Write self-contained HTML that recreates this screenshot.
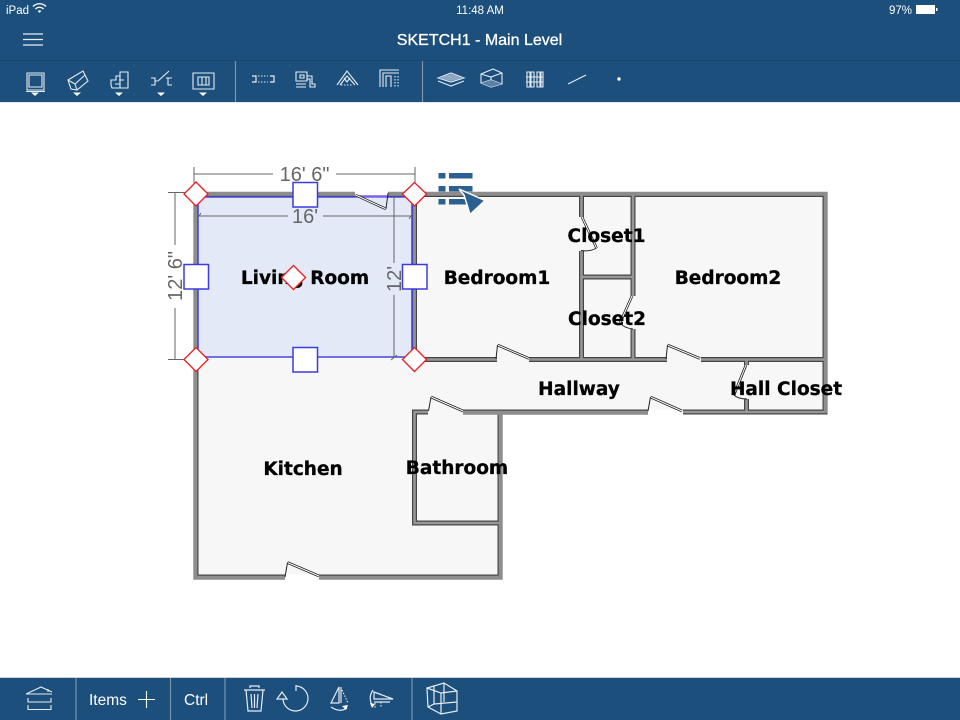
<!DOCTYPE html>
<html><head><meta charset="utf-8"><style>
html,body{margin:0;padding:0;background:#fff;width:960px;height:720px;overflow:hidden}
svg{display:block}
.lb{font-family:"DejaVu Sans",sans-serif;font-weight:bold;font-size:18.5px;fill:#000;stroke:#000;stroke-width:.3;text-anchor:middle}
.dm{font-family:"Liberation Sans",sans-serif;font-size:20px;fill:#666;text-anchor:middle}
.ui{font-family:"Liberation Sans",sans-serif;fill:#fff}
.ic{fill:none;stroke:#e6ecf2;stroke-width:1.1}
</style></head><body>
<svg width="960" height="720" viewBox="0 0 960 720" xmlns="http://www.w3.org/2000/svg">
<rect width="960" height="720" fill="#fff"/>
<rect width="960" height="102" fill="#1c4f7c"/>
<rect y="60" width="960" height="1" fill="#194872"/>
<rect y="102" width="960" height="1" fill="#dfe8ee"/>
<text class="ui" x="6" y="14" font-size="11.5">iPad</text>
<g fill="none" stroke="#fff" stroke-width="1.3"><path d="M33 6.500a9 9 0 0 1 13 0"/><path d="M35.500 9a5.500 5.500 0 0 1 8 0"/></g><path d="M37.700 11a2.500 2.500 0 0 1 3.600 0L39.500 13z" fill="#fff"/>
<text class="ui" x="480" y="14" font-size="11.5" text-anchor="middle">11:48 AM</text>
<text class="ui" x="889" y="14" font-size="11.5">97%</text>
<rect x="916" y="5" width="19" height="9" fill="#fff"/><rect x="936" y="8" width="1.500" height="3" fill="#fff"/>
<g stroke="#e8eef4" stroke-width="1.200"><path d="M23 34H43M23 39.500H43M23 45H43"/></g>
<text class="ui" x="479.500" y="45" font-size="16" text-anchor="middle" stroke="#fff" stroke-width=".3">SKETCH1 - Main Level</text>
<path d="M235.500 61V102M422.500 61V102" stroke="#7d93aa" stroke-width="1.200"/>
<!-- top icons -->
<g class="ic">
<path d="M27 73H44V90H27zM29 75H42V87H29z"/><path d="M26 91.500H45"/>
<path d="M68 80L83 71L88 81L77 90L71 89zM68 80L75 84L77 90M75 84L85 75"/>
<path d="M111 85V80H116V76H120V72H128V88H112zM115 84H120M119 80H124M120 76V88"/>
<path d="M151 78H155V85H151M155 81H158M158 81L169 71M166 78H172M168 78V85H172"/>
<path d="M193 73H214V89H193zM198 77H209V85H198zM202 77V85M206 77V85"/>
<path d="M252 76H256V82H252M270 76H274V82H270" stroke-width="1.200"/><path d="M258 76H268M258 82H268" stroke-dasharray="1.500 1.500"/>
<path d="M296 72H307V81H296zM300 75H304V78H300zM307 76H312V84H315V87H310V79H307M296 84H306M296 87H306" />
<path d="M337 85L347 71L358 85M340 85L347 76L355 85M344 78L347 82L350 78"/><path d="M341 85H353" stroke-dasharray="1.500 1.500"/>
<path d="M380 87V70H399M383 87V73H399M386 87V76H391V87"/><path d="M395 76V87M398 76V87" stroke-dasharray="1.500 1.500"/>
<path d="M438 78L451 73L464 78L451 82zM438 81L451 86L464 81"/>
<path d="M481 74L493 69L502 73V84L491 87L481 83zM481 74L491 77L502 73M491 77V87M481 83L491 80L502 84"/>
<path d="M527 72H530V87H527zM531 72H534V87H531zM537 72H540V87H537zM541 72H543V87H541zM526 77H543M526 82H543"/>
<path d="M568 84L586 75"/>
</g>
<path d="M438 78L451 74L464 78L451 81z" fill="#8ea9c6"/>
<path d="M481 83L491 80L502 84L491 87z" fill="#5b7fa5"/>
<circle cx="619" cy="79" r="1.700" fill="#fff"/>
<path d="M31 92.500H39L35 96zM73 92.500H81L77 96zM115 92.500H123L119 96zM157 92.500H165L161 96zM199 92.500H207L203 96z" fill="#fff"/>
<!-- floor -->
<path d="M194 192H827V415H502V579H194Z" fill="#f7f7f7"/>
<rect x="198" y="197" width="214" height="160" fill="#e3e9f7"/>
<g fill="none" stroke-linecap="butt">
<path d="M355 194.500H196V577H285M319 577H500V412M388 194.500H825V412H683M648 412H463M428 412H414.500V523H500M414.500 194.500V359.500H497M529 359.500H667M701 359.500H825M581.500 194.500V217M581.500 251V359.500M633 194.500V296M633 329V359.500M581.500 277H633M746.500 359.500V365M746.500 399V412" stroke="#454545" stroke-width="5"/>
<path d="M355 194.500H196V577H285M319 577H500V412M388 194.500H825V412H683M648 412H463M428 412H414.500V523H500M414.500 194.500V359.500H497M529 359.500H667M701 359.500H825M581.500 194.500V217M581.500 251V359.500M633 194.500V296M633 329V359.500M581.500 277H633M746.500 359.500V365M746.500 399V412" stroke="#979797" stroke-width="2.600"/>
<!-- lighter outer body of perimeter walls -->
<path d="M355 193.500H195V578H285M319 578H501V413H683M648 413H463M388 193.500H826V413" stroke="#8d8d8d" stroke-width="3.400"/>
</g>
<rect x="285" y="574.500" width="34" height="6" fill="#fff"/>
<rect x="648" y="409.500" width="35" height="6" fill="#fff"/>
<rect x="355" y="191" width="33" height="4" fill="#fff"/>
<path d="M198 197H355M388 197H412V357H198V197" fill="none" stroke="#4747dc" stroke-width="1.600"/>
<path d="M355 196.500H388" stroke="#7a62ea" stroke-width="2.500"/>
<!-- doors -->
<g fill="none" stroke="#222" stroke-width="2.600">
<path d="M355.500 195L386 209M497.500 345L529 358.500M667.500 345L700 358.500M431 397L463 411M650.500 397L682 411M287.500 562.500L319 576M582 217L596.500 248M632 296L620 323M746 365L734 395"/>
</g>
<g fill="none" stroke="#fff" stroke-width="1">
<path d="M355.500 195L386 209M497.500 345L529 358.500M667.500 345L700 358.500M431 397L463 411M650.500 397L682 411M287.500 562.500L319 576M582 217L596.500 248M632 296L620 323M746 365L734 395"/>
</g>
<g fill="none" stroke="#222" stroke-width="1">
<path d="M388 193L386 209M497.500 345L496 359M667.500 345L666 359M431 397L428.500 411M650.500 397L648 411M287.500 562.500L285 577M596.500 248Q590 252 581 250.500M620 323Q624 328 633 329M734 395Q738 399 747 399"/>
</g>
<!-- dims -->
<g stroke="#666" stroke-width="1" fill="none">
<path d="M194 174H273M336 174H415M194 167V190M415 167V190"/>
<path d="M198 216H288M323 216H412M197 219L201 213M409 219L413 213"/>
<path d="M175 192V245M175 308V359M168 192.500H192M168 359.500H192"/>
<path d="M394 197V263M394 295V357M391 360L397 355"/>
</g>
<text class="dm" x="304.500" y="181">16' 6"</text>
<text class="dm" x="305" y="223">16'</text>
<text class="dm" transform="translate(182,276) rotate(-90)" x="0" y="0">12' 6"</text>
<text class="dm" transform="translate(401,279) rotate(-90)" x="0" y="0">12'</text>
<!-- labels -->
<text class="lb" x="305" y="284">Living Room</text>
<text class="lb" x="497" y="284">Bedroom1</text>
<text class="lb" x="606.500" y="242">Closet1</text>
<text class="lb" x="728" y="284">Bedroom2</text>
<text class="lb" x="607" y="325">Closet2</text>
<text class="lb" x="579" y="395">Hallway</text>
<text class="lb" x="786" y="395">Hall Closet</text>
<text class="lb" x="303" y="475">Kitchen</text>
<text class="lb" x="457" y="474">Bathroom</text>
<!-- handles -->
<g fill="#fff" stroke="#3b3be0" stroke-width="1.500">
<rect x="293" y="182.500" width="24.500" height="24.500"/>
<rect x="184" y="264.500" width="24.500" height="24.500"/>
<rect x="402.500" y="264.500" width="24.500" height="24.500"/>
<rect x="293" y="347.500" width="24.500" height="24.500"/>
</g>
<g fill="#fff" stroke="#e8262a" stroke-width="1.400">
<path d="M196 182L208 194L196 206L184 194Z"/>
<path d="M414.500 182.500L426.500 194L414.500 206L402.500 194Z"/>
<path d="M196 347.500L208 359.500L196 371.500L184 359.500Z"/>
<path d="M414.500 347.500L426.500 359.500L414.500 371.500L402.500 359.500Z"/>
<path d="M293.500 265.500L305.500 277.500L293.500 289.500L281.500 277.500Z"/>
</g>
<!-- cursor -->
<g fill="#2b6090">
<rect x="438.500" y="173" width="7" height="5.500"/><rect x="449" y="173" width="23.500" height="5.500"/>
<rect x="438.500" y="186" width="7" height="5.500"/><rect x="449" y="186" width="23.500" height="5.500"/>
<rect x="438.500" y="199" width="7" height="5.500"/><rect x="449" y="199" width="23.500" height="5.500"/>
</g>
<path d="M459 189L485 200.500L470 214.500L464 195Z" fill="#2b6090" stroke="#fff" stroke-width="1.500" stroke-linejoin="miter"/>
<!-- bottom bar -->
<rect y="678" width="960" height="42" fill="#1c4f7c"/>
<rect y="677" width="960" height="1" fill="#c9d3dc"/>
<path d="M76 678V720M170.500 678V720M225 678V720M412 678V720" stroke="#7d93aa" stroke-width="1.200"/>
<g class="ic">
<path d="M26 694L41 687L52 692M26 694H52M48 689V692M28 698V702H51V698M28 705V709.500H51V705"/>
<path d="M138 699.500H155M146.500 691V708" stroke="#fff"/>
<path d="M246 690H263L261 711H248ZM250 688V686H259V688M244 690H265M251 694L252 708M254.500 694V708M258 694L257 708" stroke-width="1.200"/>
<path d="M296 686A12.500 12.500 0 1 1 283 699" stroke-width="1.200"/><path d="M296 685V691M282 692L287 699H277Z" stroke-width="1.200"/>
<path d="M339 687L331 703H339ZM341 687V703" stroke-width="1.200"/><path d="M342 690L348 703" stroke-dasharray="1.500 1.500"/><path d="M331 707Q340 713 347 708" stroke-width="1.200"/>
<path d="M374 692L393 699L374 699ZM374 702H390" stroke-width="1.200"/><path d="M375 703V709M381 702V707" stroke-dasharray="1.500 1.500"/><path d="M373 690Q368 697 372 705" stroke-width="1.200"/>
<path d="M427 688L444 683L457 691V711L441 714L428 707ZM427 688L441 693V714M441 693L457 691M434 686V704L428 707M434 704L457 702M444 683V702" stroke-width="1.200"/>
</g>
<path d="M370 703L375 704L372 708Z" fill="#fff"/>
<path d="M342 706L348 705L346 710Z" fill="#fff"/>
<text class="ui" x="89" y="705" font-size="15.500">Items</text>
<text class="ui" x="184" y="705" font-size="15.500">Ctrl</text>
</svg>
</body></html>
